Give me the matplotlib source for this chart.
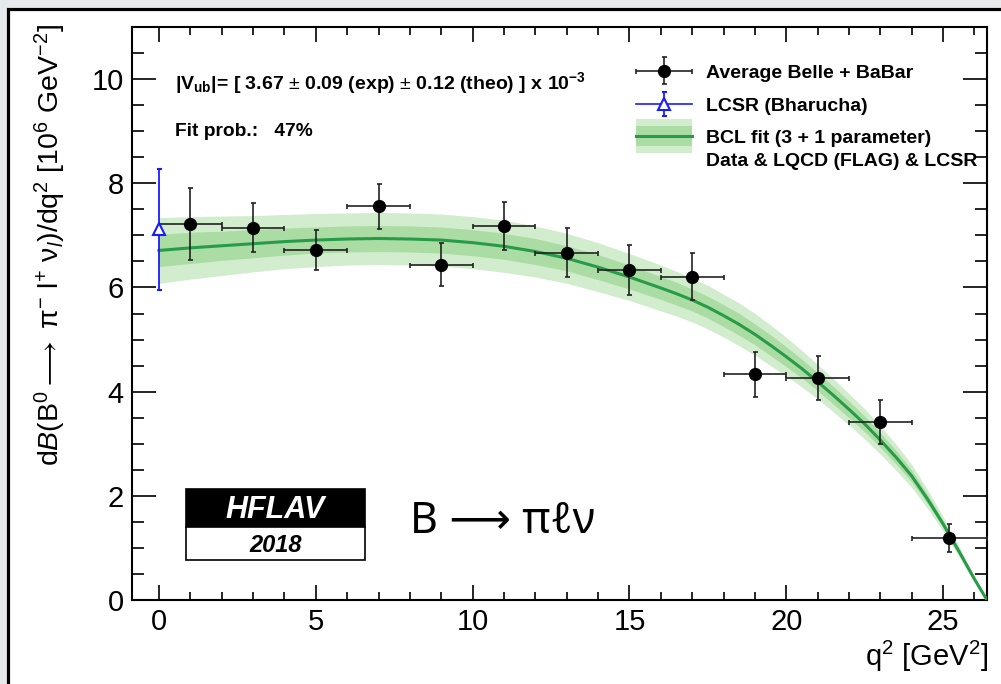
import numpy as np
import matplotlib
matplotlib.use('Agg')
import matplotlib.pyplot as plt
from matplotlib.patches import Rectangle
from matplotlib.lines import Line2D
from matplotlib.legend_handler import HandlerBase, HandlerErrorbar
from matplotlib.ticker import MultipleLocator

plt.rcParams['font.family'] = ['Liberation Sans', 'DejaVu Sans']
plt.rcParams['mathtext.fontset'] = 'custom'
plt.rcParams['mathtext.rm'] = 'Liberation Sans'
plt.rcParams['mathtext.it'] = 'Liberation Sans:italic'
plt.rcParams['mathtext.bf'] = 'Liberation Sans:bold'

# Moyenne Belle + BaBar (bins en q2)
q2_center = [1, 3, 5, 7, 9, 11, 13, 15, 17, 19, 21, 23, 25.2]
q2_halfwidth = [1, 1, 1, 1, 1, 1, 1, 1, 1, 1, 1, 1, 1.2]
dbdq2 = [7.21, 7.15, 6.72, 7.56, 6.44, 7.18, 6.67, 6.33, 6.21, 4.33, 4.26, 3.41, 1.19]
dbdq2_err = [0.69, 0.47, 0.39, 0.43, 0.42, 0.46, 0.47, 0.48, 0.45, 0.43, 0.42, 0.42, 0.26]

# LCSR (Bharucha) a q2 = 0
lcsr_q2 = [0]
lcsr_val = [7.12]
lcsr_err = [1.16]

# Ajustement BCL
fit_q2 = [0, 1, 2, 3, 4, 5, 6, 7, 8, 9, 10, 11, 12, 13, 14, 15, 16, 16.5, 17,
          17.5, 18, 18.5, 19, 19.5, 20, 20.5, 21, 21.5, 22, 22.5, 23, 23.5, 24,
          24.5, 25, 25.5, 26, 26.4]
fit_central = [6.71, 6.76, 6.80, 6.84, 6.88, 6.91, 6.93, 6.94, 6.93, 6.91, 6.86,
               6.79, 6.69, 6.56, 6.39, 6.20, 5.99, 5.88, 5.76, 5.62, 5.46, 5.29,
               5.10, 4.89, 4.67, 4.44, 4.19, 3.93, 3.66, 3.38, 3.07, 2.74, 2.38,
               1.94, 1.46, 0.94, 0.40, 0.0]
fit_outer = [0.63, 0.60, 0.57, 0.54, 0.52, 0.51, 0.50, 0.50, 0.50, 0.50, 0.50,
             0.50, 0.49, 0.48, 0.47, 0.45, 0.44, 0.43, 0.42, 0.42, 0.41, 0.41,
             0.40, 0.39, 0.37, 0.35, 0.33, 0.32, 0.30, 0.29, 0.27, 0.25, 0.22,
             0.18, 0.14, 0.10, 0.05, 0.0]
fit_inner = [0.31, 0.30, 0.28, 0.27, 0.26, 0.25, 0.25, 0.25, 0.25, 0.25, 0.25,
             0.25, 0.25, 0.24, 0.24, 0.23, 0.22, 0.22, 0.21, 0.21, 0.21, 0.21,
             0.20, 0.20, 0.19, 0.18, 0.17, 0.17, 0.16, 0.15, 0.14, 0.13, 0.11,
             0.09, 0.07, 0.05, 0.03, 0.0]

light_green = '#d2ecce'
mid_green = '#abdca4'
dark_green = '#279b48'

W, H = 1001, 684


def fx(px):
    return px / W


def fy(py):
    return 1 - py / H


class BandHandler(HandlerBase):
    def create_artists(self, legend, orig_handle, xdescent, ydescent, width,
                       height, fontsize, trans):
        yc = -ydescent + height / 2 + 0.72 * fontsize
        x0 = -xdescent
        outer = Rectangle((x0, yc - 0.86 * fontsize), width, 1.72 * fontsize,
                          facecolor=light_green, edgecolor='none', transform=trans)
        inner = Rectangle((x0, yc - 0.52 * fontsize), width, 1.04 * fontsize,
                          facecolor=mid_green, edgecolor='none', transform=trans)
        line = Line2D([x0, x0 + width], [yc, yc], color=dark_green, lw=2.2,
                      transform=trans)
        return [outer, inner, line]


fig = plt.figure(figsize=(W / 100, H / 100), dpi=100)
fig.patch.set_facecolor('#e6eaed')
fig.patches.append(Rectangle((fx(8), -0.1), 1.2, fy(9) + 0.1, transform=fig.transFigure,
                             facecolor='white', edgecolor='black', lw=2.3, zorder=-1))

ax = fig.add_axes([fx(132), fy(600), fx(987) - fx(132), fy(27) - fy(600)])
ax.set_facecolor('white')

q2 = np.array(fit_q2)
c = np.array(fit_central)
band_out = ax.fill_between(q2, c - np.array(fit_outer), c + np.array(fit_outer),
                           color=light_green, lw=0, zorder=1)
ax.fill_between(q2, c - np.array(fit_inner), c + np.array(fit_inner),
                color=mid_green, lw=0, zorder=2)
ax.plot(q2, c, color=dark_green, lw=2.2, zorder=3)

data = ax.errorbar(q2_center, dbdq2, xerr=q2_halfwidth, yerr=dbdq2_err, fmt='o',
                   color='black', ecolor='#222222', ms=8.5, elinewidth=1.2,
                   capsize=1.8, capthick=1.2, zorder=5)
lcsr = ax.errorbar(lcsr_q2, lcsr_val, yerr=lcsr_err, fmt='^-', color='#1a1aff',
                   mfc='white', mec='#1a1aff', mew=1.5, ms=9, lw=1.2,
                   elinewidth=1.3, capsize=1.8, capthick=1.2, zorder=6)

ax.set_xlim(-0.86, 26.4)
ax.set_ylim(0, 11)
ax.xaxis.set_major_locator(MultipleLocator(5))
ax.xaxis.set_minor_locator(MultipleLocator(1))
ax.yaxis.set_major_locator(MultipleLocator(2))
ax.yaxis.set_minor_locator(MultipleLocator(0.5))
ax.tick_params(which='both', direction='in', top=True, right=True, width=1.2,
               labelsize=21)
ax.tick_params(axis='x', which='major', length=11, pad=6)
ax.tick_params(axis='x', which='minor', length=5.5)
ax.tick_params(axis='y', which='major', length=17, pad=6)
ax.tick_params(axis='y', which='minor', length=8.5)
for s in ax.spines.values():
    s.set_linewidth(1.5)

fig.text(fx(50), fy(24),
         r'd$\mathit{B}$(B$^{0}$$\longrightarrow$ $\mathrm{\pi}^{-}$ l$^{+}$ $\mathrm{\nu}_{l}$)/dq$^{2}$ [10$^{6}$ GeV$^{-2}$]',
         rotation=90, ha='center', va='top', fontsize=20.5)
fig.text(fx(988), fy(656), r'q$^{2}$ [GeV$^{2}$]', ha='right', va='center', fontsize=21)

# Textes de l'ajustement
fig.text(fx(175), fy(83),
         r'|V$_{\mathbf{ub}}$|= [ 3.67 $\pm$ 0.09 (exp) $\pm$ 0.12 (theo) ] x 10$^{\mathbf{-3}}$',
         ha='left', va='center', fontsize=14, fontweight='bold')
fig.text(fx(175), fy(132), 'Fit prob.:   47%', ha='left', va='center',
         fontsize=13.8, fontweight='bold')

leg = ax.legend([data, lcsr, band_out],
                ['Average Belle + BaBar', 'LCSR (Bharucha)',
                 'BCL fit (3 + 1 parameter)\nData & LQCD (FLAG) & LCSR'],
                handler_map={data: HandlerErrorbar(xerr_size=1.45, yerr_size=0.7),
                             lcsr: HandlerErrorbar(xerr_size=1.45, yerr_size=0.6),
                             band_out: BandHandler()},
                loc='upper left', bbox_to_anchor=(fx(636), fy(64)),
                bbox_transform=fig.transFigure, frameon=False, borderpad=0,
                borderaxespad=0, handlelength=2.9, handletextpad=0.7,
                labelspacing=0.8, numpoints=1,
                prop={'size': 14, 'weight': 'bold'})
for t in leg.get_texts():
    t.set_linespacing(1.45)

# Logo HFLAV
fig.patches.append(Rectangle((fx(186), fy(527)), fx(365) - fx(186), fy(489) - fy(527),
                             transform=fig.transFigure, facecolor='black',
                             edgecolor='black', lw=1.2, zorder=5))
fig.patches.append(Rectangle((fx(186), fy(560)), fx(365) - fx(186), fy(527) - fy(560),
                             transform=fig.transFigure, facecolor='white',
                             edgecolor='black', lw=1.2, zorder=5))
fig.text(fx(275), fy(510), 'HFLAV', color='white', ha='center', va='center',
         fontsize=22, fontweight='bold', fontstyle='italic', zorder=6)
fig.text(fx(276), fy(545), '2018', color='black', ha='center', va='center',
         fontsize=17, fontweight='bold', fontstyle='italic', zorder=6)

fig.text(fx(410), fy(522), 'B \u27f6 \u03c0\u2113\u03bd', ha='left', va='center',
         fontsize=31, family=['Noto Sans', 'DejaVu Sans'])

plt.savefig('out.png', dpi=100, facecolor=fig.get_facecolor())
